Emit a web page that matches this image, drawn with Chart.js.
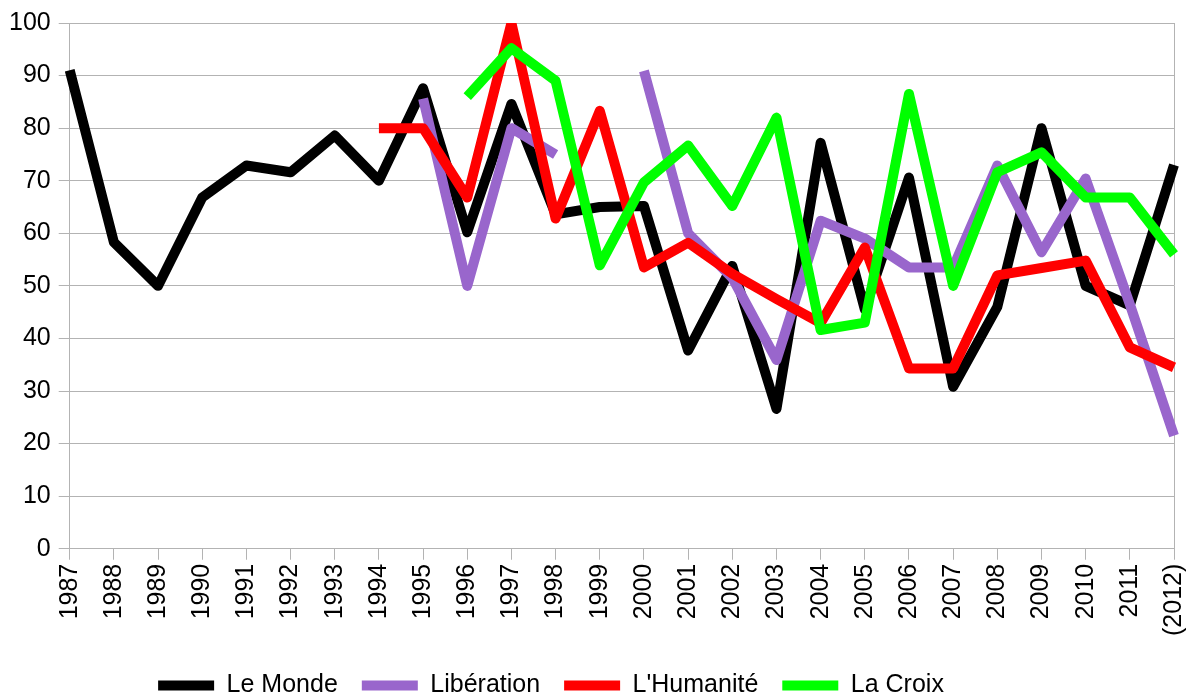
<!DOCTYPE html>
<html>
<head>
<meta charset="utf-8">
<script src="https://cdn.jsdelivr.net/npm/chart.js@4/dist/chart.umd.min.js"></script>
<style>
  html, body { margin: 0; padding: 0; background: #fff; }
  #wrap { width: 1191px; height: 695px; }
</style>
</head>
<body>
<div id="wrap"><canvas id="chart" width="1191" height="695"></canvas></div>
<script>
var years = ["1987","1988","1989","1990","1991","1992","1993","1994","1995","1996","1997","1998","1999",
             "2000","2001","2002","2003","2004","2005","2006","2007","2008","2009","2010","2011","(2012)"];

var leMonde     = [91, 58.3, 50, 66.8, 72.9, 71.6, 78.6, 70, 87.6, 60.2, 84.6, 63.6, 65, 65.2, 37.7, 53.8, 26.6, 77.2, 45.5, 70.6, 30.8, 46, 80, 50, 46.3, 73];
var liberation  = [null, null, null, null, null, null, null, null, 85.6, 50, 80, 75, null, 90.9, 60, 51.5, 35.9, 62.4, 59, 53.5, 53.5, 72.9, 56.4, 70.4, 46.5, 21.5];
var humanite    = [null, null, null, null, null, null, null, 80, 80, 66.8, 100, 62.8, 83.3, 53.5, 58.2, 52.3, 47.5, 42.9, 57.3, 34.3, 34.3, 52, 53.4, 54.8, 38.3, 34.5];
var laCroix     = [null, null, null, null, null, null, null, null, null, 86, 95.2, 89, 53.9, 69.7, 76.7, 65.2, 82, 41.6, 43, 86.5, 50, 71.6, 75.4, 66.8, 66.8, 56];

var yTicks = [0, 10, 20, 30, 40, 50, 60, 70, 80, 90, 100];

var gridColor = "#b3b3b3";
var font = { family: "'Liberation Sans', Arial, sans-serif", size: 25 };

function line(label, data, color, order) {
    return {
        label: label,
        data: data,
        borderColor: color,
        backgroundColor: color,
        borderWidth: 10,
        pointRadius: 0,
        pointHoverRadius: 0,
        tension: 0,
        spanGaps: false,
        borderJoinStyle: "round",
        borderCapStyle: "butt",
        pointStyle: "line",
        order: order
    };
}

// move legend a bit left / down, like the original
var legendShift = {
    id: "legendShift",
    afterLayout: function(chart) {
        var lg = chart.legend;
        lg.left -= 45; lg.right -= 45;
        lg.top += 9; lg.bottom += 9;
    }
};

var canvas = document.getElementById("chart");
var config = {
    type: "line",
    data: {
        labels: years,
        datasets: [
            line("Le Monde", leMonde, "#000000", 4),
            line("Libération", liberation, "#9966cc", 3),
            line("L'Humanité", humanite, "#ff0000", 2),
            line("La Croix", laCroix, "#00ff00", 1)
        ]
    },
    options: {
        responsive: false,
        animation: false,
        layout: { padding: { left: 1, right: 0, top: 12, bottom: 0 } },
        plugins: {
            tooltip: { enabled: false },
            legend: {
                position: "bottom",
                maxHeight: 55,
                labels: {
                    usePointStyle: true,
                    pointStyleWidth: 56,
                    boxHeight: 20,
                    padding: 24,
                    color: "#000",
                    font: font,
                    sort: function(a, b) { return a.datasetIndex - b.datasetIndex; }
                }
            }
        },
        scales: {
            x: {
                offset: false,
                afterFit: function(axis) { axis.paddingRight = 17; },
                grid: {
                    color: function(ctx) { return ctx.index === years.length - 1 ? gridColor : "rgba(0,0,0,0)"; },
                    tickColor: gridColor,
                    tickLength: 11,
                    lineWidth: 1
                },
                border: { color: gridColor },
                ticks: {
                    color: "#000",
                    font: font,
                    minRotation: 90,
                    maxRotation: 90,
                    autoSkip: false,
                    padding: 4
                }
            },
            y: {
                min: 0,
                max: 100,
                afterBuildTicks: function(axis) {
                    axis.ticks = yTicks.map(function(v) { return { value: v }; });
                },
                grid: { color: gridColor, tickLength: 11, lineWidth: 1 },
                border: { color: gridColor },
                ticks: { color: "#000", font: font, padding: 8 }
            }
        }
    },
    plugins: [legendShift]
};

var chart = new Chart(canvas, config);
</script>
</body>
</html>
